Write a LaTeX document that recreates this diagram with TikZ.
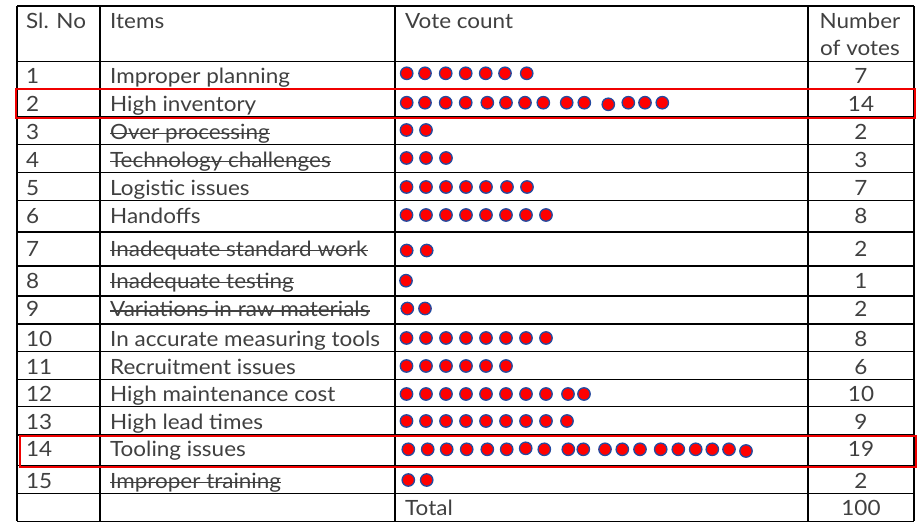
\documentclass[tikz,border=0pt]{standalone}
\usepackage{fontspec}
\setmainfont{Lato}[FakeStretch=1.07]
\definecolor{txt}{RGB}{64,64,64}
\definecolor{dotblue}{RGB}{36,74,160}
\definecolor{boxred}{RGB}{240,0,0}
\begin{document}
\begin{tikzpicture}[x=1pt,y=-1pt,
  every node/.style={inner sep=0pt, text=txt, font=\fontsize{21}{25}\selectfont},
  cell/.style={anchor=base west},
  numcell/.style={anchor=base},
  grid/.style={black, line width=1.3pt},
  hilite/.style={boxred, line width=2.2pt},
  vdot/.style={fill=red, draw=dotblue, line width=1.3pt},
  strike/.style={txt, line width=1.3pt}]
\useasboundingbox (0,0) rectangle (922,530);
\fill[white] (0,0) rectangle (922,530);

% grid
\foreach \yy in {6,61.3,89,116.7,144.7,172.7,200.7,232,266,296,324,351.7,379.3,406.7,435,465.3,493.3,521.3}
  \draw[grid] (17,\yy) -- (914,\yy);
\foreach \xx in {17,100,395,808,914}
  \draw[grid] (\xx,6) -- (\xx,521.3);

% header
\node[cell] (hsl) at (26,28.5) {Sl. No};
\node[cell] (hit) at (110,28.5) {Items};
\node[cell] (hvc) at (405,28.5) {Vote count};
\node[numcell] (hnv1) at (860,28.5) {Number};
\node[numcell] (hnv2) at (860,55) {of votes};

% rows: number / item / votes / baseline
\foreach \n/\it/\v/\b in {
  1/Improper planning/7/83.5,
  2/High inventory/14/111.5,
  3/Over processing/2/139.3,
  4/Technology challenges/3/167.2,
  5/Logistic issues/7/195.2,
  6/Handoffs/8/223,
  7/Inadequate standard work/2/256,
  8/Inadequate testing/1/288.3,
  9/Variations in raw materials/2/316.7,
  10/In accurate measuring tools/8/346.5,
  11/Recruitment issues/6/374.2,
  12/High maintenance cost/10/401.8,
  13/High lead times/9/429.2,
  14/Tooling issues/19/456,
  15/Improper training/2/488}{
  \node[cell] (n\n) at (26,\b) {\n};
  \node[cell] (i\n) at (110,\b) {\it};
  \node[numcell] (v\n) at (861,\b) {\v};
}
\node[cell] (tot) at (405,515) {Total};
\node[numcell] (totv) at (861,515) {100};

% strike-through items
\foreach \k in {3,4,7,8,9,15}
  \draw[strike] ([yshift=5.8pt]i\k.base west) -- ([yshift=5.8pt]i\k.base east);

% vote dots
\def\dotr{6.2}
\foreach \x in {406.7,425,445.7,465.7,485.7,505,526.7} \draw[vdot] (\x,73.3) circle (\dotr);
\foreach \x/\y in {406.7/102.7,425/102.7,445.7/102.7,465.7/102.7,487.3/102.7,506/102.7,525/102.7,543.3/102.7,566.7/102.7,584.3/102.7,608.3/104.3,628.3/102.7,645/102.7,662.3/102.7} \draw[vdot] (\x,\y) circle (\dotr);
\foreach \x in {406.5,426} \draw[vdot] (\x,130) circle (\dotr);
\foreach \x in {406.5,426,446} \draw[vdot] (\x,158) circle (\dotr);
\foreach \x in {406.5,426,446,466,486,507,527} \draw[vdot] (\x,187) circle (\dotr);
\foreach \x in {406.5,426,446,466,486,506,526,546} \draw[vdot] (\x,215) circle (\dotr);
\foreach \x in {406.7,426.7} \draw[vdot] (\x,250.5) circle (\dotr);
\foreach \x in {406} \draw[vdot] (\x,280.7) circle (\dotr);
\foreach \x in {407.3,425} \draw[vdot] (\x,308.5) circle (\dotr);
\foreach \x in {406.5,426,446,466,486,506,526,546} \draw[vdot] (\x,338) circle (\dotr);
\foreach \x in {406.5,426,446,466,486,506} \draw[vdot] (\x,366) circle (\dotr);
\foreach \x in {406.5,426,446,466,486,506,526,546,568,584} \draw[vdot] (\x,394) circle (\dotr);
\foreach \x in {406.5,426,446,466,486,506,526,546,567} \draw[vdot] (\x,421) circle (\dotr);
\foreach \x/\y in {408.3/449.3,427.7/449.3,446.7/449.3,466.7/449.3,487.3/449.3,506.7/449.3,525.7/448.3,544.3/449.3,568.3/449.3,583.3/449.3,605/449.3,622.3/449.3,640/449.3,660.7/449.3,678.3/449.3,695.7/449.3,712.3/449.3,729/449.3,746/451} \draw[vdot] (\x,\y) circle (\dotr);
\foreach \x in {408.3,426.7} \draw[vdot] (\x,480) circle (\dotr);

% highlight boxes
\draw[hilite] (16,89.3) rectangle (915,117.8);
\draw[hilite] (20,436) rectangle (916,467.2);
\end{tikzpicture}
\end{document}
